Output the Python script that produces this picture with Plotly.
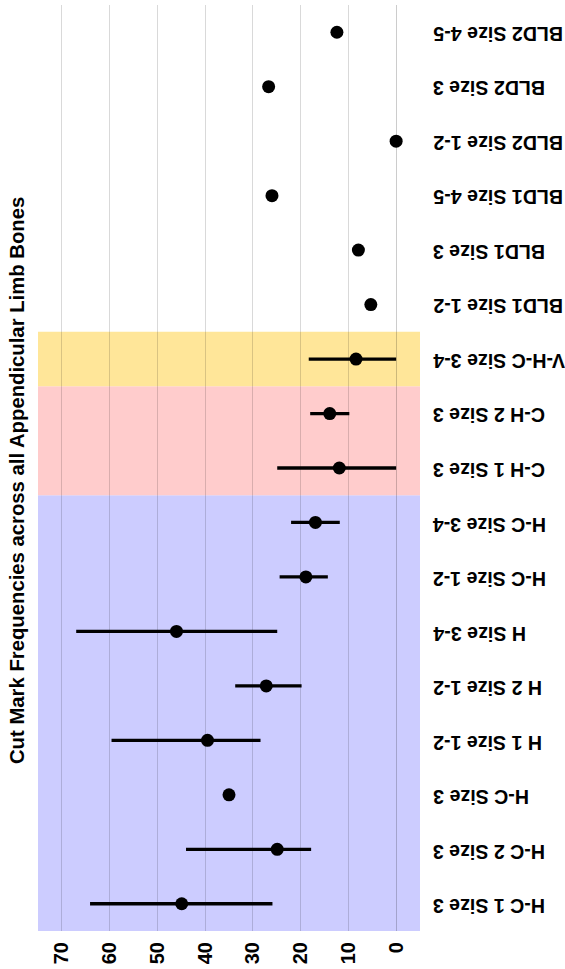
import plotly.graph_objects as go

categories = ["H-C 1 Size 3", "H-C 2 Size 3", "H-C Size 3", "H 1 Size 1-2", "H 2 Size 1-2",
              "H Size 3-4", "H-C Size 1-2", "H-C Size 3-4", "C-H 1 Size 3", "C-H 2 Size 3",
              "V-H-C Size 3-4", "BLD1 Size 1-2", "BLD1 Size 3", "BLD1 Size 4-5",
              "BLD2 Size 1-2", "BLD2 Size 3", "BLD2 Size 4-5"]
means = [44.9, 24.9, 35.0, 39.5, 27.2, 46.0, 18.9, 16.9, 11.9, 13.9, 8.4, 5.3, 7.9, 26.0, 0.0, 26.7, 12.4]
upper = [64.1, 44.0, None, 59.6, 33.7, 67.0, 24.4, 22.0, 24.9, 18.0, 18.3, None, None, None, None, None, None]
lower = [25.9, 17.8, None, 28.4, 19.8, 24.9, 14.3, 11.8, 0.0, 9.8, 0.0, None, None, None, None, None, None]
value_ticks = [0, 10, 20, 30, 40, 50, 60, 70]

groups = [  # (first index, last index, colour)
    (0, 7, "rgb(204,204,255)"),
    (8, 9, "rgb(255,204,204)"),
    (10, 10, "rgb(255,230,153)"),
]

err_plus = [(u - m) if u is not None else 0 for u, m in zip(upper, means)]
err_minus = [(m - l) if l is not None else 0 for l, m in zip(lower, means)]

FONT = "Liberation Sans, Arial, sans-serif"

fig = go.Figure()
fig.add_trace(go.Scatter(
    x=means, y=categories, mode="markers",
    marker=dict(color="black", size=13),
    error_x=dict(type="data", array=err_plus, arrayminus=err_minus,
                 color="black", thickness=3.3, width=0),
    showlegend=False,
))

shapes = []
for a, b, col in groups:
    shapes.append(dict(type="rect", xref="x domain", yref="y", x0=0, x1=1,
                       y0=a - 0.5, y1=b + 0.5, fillcolor=col, line=dict(width=0),
                       layer="below"))

annotations = []
for c in categories:
    annotations.append(dict(text=c, xref="paper", yref="y", x=1, y=c,
                            xanchor="left", yanchor="middle", xshift=11, yshift=-2,
                            textangle=180, showarrow=False,
                            font=dict(family=FONT, size=19.6, color="black", weight="bold")))
annotations.append(dict(text="Cut Mark Frequencies across all Appendicular Limb Bones",
                        xref="paper", yref="paper", x=-0.055, y=0.487,
                        xanchor="center", yanchor="middle", textangle=-90, showarrow=False,
                        font=dict(family=FONT, size=20.3, color="black", weight="bold")))

fig.update_layout(
    width=565, height=969,
    margin=dict(l=38, r=145, t=5, b=38, autoexpand=False),
    paper_bgcolor="white", plot_bgcolor="white",
    shapes=shapes, annotations=annotations,
    xaxis=dict(range=[75, -5], tickvals=value_ticks, tickangle=-90,
               showgrid=True, gridcolor="rgba(0,0,0,0.15)", gridwidth=1,
               zeroline=True, zerolinecolor="rgba(0,0,0,0.2)", zerolinewidth=1,
               showline=False, ticks="", automargin=False, ticklabelstandoff=6,
               tickfont=dict(family=FONT, size=20, color="black", weight="bold")),
    yaxis=dict(type="category", categoryarray=categories, categoryorder="array",
               range=[-0.5, len(categories) - 0.5], showgrid=False, zeroline=False,
               showticklabels=False, ticks="", showline=False, automargin=False),
)

fig.write_html("out.html", config={"displayModeBar": False},
               post_script="document.body.style.margin='0';document.body.style.overflow='hidden';")
